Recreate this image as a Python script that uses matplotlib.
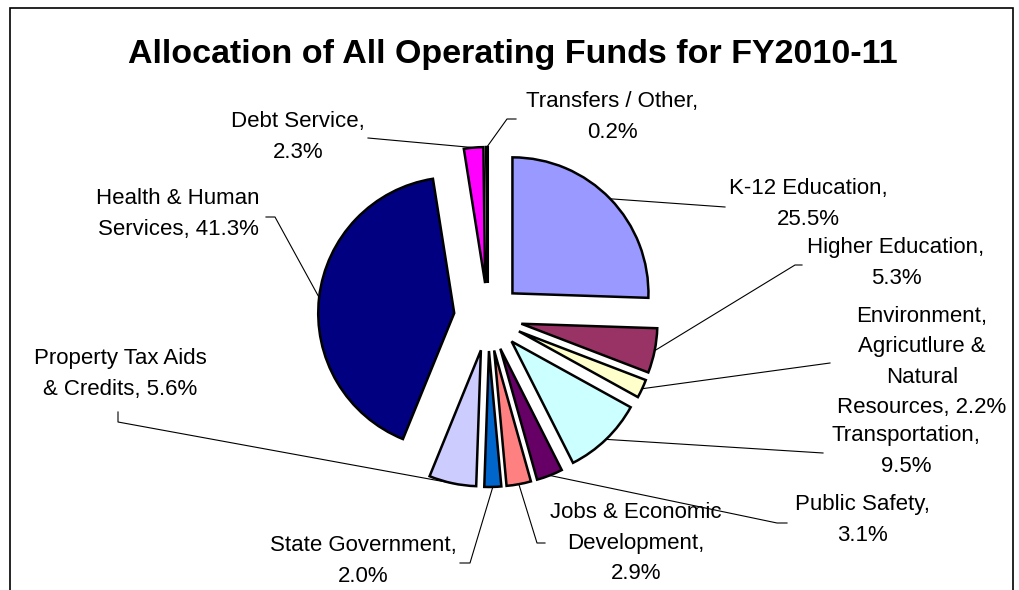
import numpy as np
import matplotlib
matplotlib.use("Agg")
import matplotlib.pyplot as plt
from matplotlib.patches import Rectangle

plt.rcParams['font.family'] = ['Liberation Sans', 'DejaVu Sans']

# Data
categories = ["K-12 Education", "Higher Education",
              "Environment, Agricutlure & Natural Resources", "Transportation",
              "Public Safety", "Jobs & Economic Development", "State Government",
              "Property Tax Aids & Credits", "Health & Human Services",
              "Debt Service", "Transfers / Other"]
shares = [25.5, 5.3, 2.2, 9.5, 3.1, 2.9, 2.0, 5.6, 41.3, 2.3, 0.2]
label_fmt = ["K-12 Education,\n{}%", "Higher Education,\n{}%",
             "Environment,\nAgricutlure &\nNatural\nResources, {}%",
             "Transportation,\n{}%", "Public Safety,\n{}%",
             "Jobs & Economic\nDevelopment,\n{}%", "State Government,\n{}%",
             "Property Tax Aids\n& Credits, {}%", "Health & Human\nServices, {}%",
             "Debt Service,\n{}%", "Transfers / Other,\n{}%"]
colors = ["#9999FF", "#993366", "#FFFFCC", "#CCFFFF", "#660066", "#FF8080",
          "#0066CC", "#CCCCFF", "#000080", "#FF00FF", "#000000"]

W, H = 1020, 590

# label placement in pixels (x, y from top) and leader elbows
text_pos = [(808, 204), (896, 263), (922, 362), (906, 451), (862, 520),
            (636, 543), (363, 561), (120, 374), (178, 214), (298, 137),
            (612, 117)]
elbows = [[(725, 207)], [(795, 265), (802, 265)], [(830, 363)], [(823, 453)],
          [(777, 523), (787, 523)], [(537, 543), (545, 543)],
          [(470, 563), (460, 563)], [(118, 422), (118, 412)],
          [(275, 217), (266, 217)], [(368, 138)], [(507, 119), (516, 119)]]

fig = plt.figure(figsize=(W / 100, H / 100), dpi=100)
ax = fig.add_axes([0, 0, 1, 1])

radius = 136
wedges, _ = ax.pie(shares, colors=colors, startangle=90, counterclock=False,
                   radius=radius, center=(488, H - 317),
                   explode=[34] * len(shares),
                   wedgeprops=dict(edgecolor='black', linewidth=1.8))
ax.set_xlim(0, W)
ax.set_ylim(0, H)
ax.set_aspect('equal')
ax.axis('off')

for w, fmt, v, (tx, ty), pts in zip(wedges, label_fmt, shares, text_pos, elbows):
    mid = np.deg2rad((w.theta1 + w.theta2) / 2)
    ax_x = w.center[0] + w.r * np.cos(mid)
    ax_y = w.center[1] + w.r * np.sin(mid)
    xs = [ax_x] + [p[0] for p in pts]
    ys = [ax_y] + [H - p[1] for p in pts]
    ax.plot(xs, ys, color='black', linewidth=0.8)
    ax.text(tx, H - ty, fmt.format(v), ha='center', va='center',
            fontsize=16, linespacing=1.6, multialignment='center')

ax.text(513, H - 55, "Allocation of All Operating Funds for FY2010-11",
        ha='center', va='center', fontsize=24.5, fontweight='bold')

fig.patches.append(Rectangle((10 / W, -0.05), 1003 / W, 1.05 - 8 / H,
                             transform=fig.transFigure, fill=False,
                             edgecolor='black', linewidth=1.2))

plt.savefig("out.png", dpi=100)
